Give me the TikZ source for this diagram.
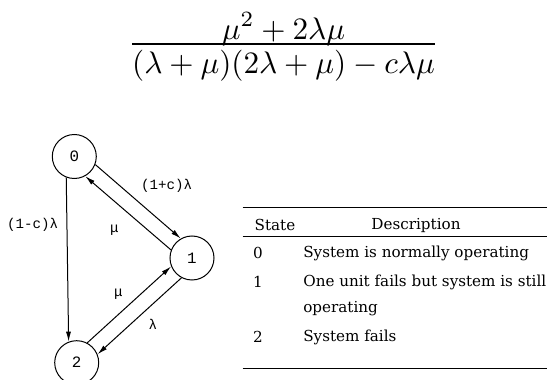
\documentclass[tikz,border=0pt]{standalone}
\usepackage{amsmath,amssymb}
\usepackage{fontspec}
\newfontfamily\tabfont{DejaVu Serif}
\newfontfamily\lblfont{Liberation Mono}
\usepackage{tikz}
\usetikzlibrary{arrows.meta,positioning}

\begin{document}
\begin{tikzpicture}[
  x=0.6pt, y=-0.6pt,
  every node/.style = {align=center},
  state/.style = {circle, draw, line width=0.6pt,
                  minimum size=26.4pt, inner sep=0pt,
                  font=\lblfont\fontsize{9.5}{11}\selectfont},
  arr/.style   = {-{Latex[length=6pt,width=3pt]}, line width=0.6pt},
  lbl/.style   = {font=\lblfont\fontsize{8.5}{10}\selectfont, inner sep=1pt},
  tab/.style   = {font=\tabfont\fontsize{9.1}{11}\selectfont, inner sep=0pt},
  rule/.style  = {line width=0.6pt},
]
\useasboundingbox (0,0) rectangle (552,380);

% ── Formula ──────────────────────────────────────────────────
\node[scale=1.87, anchor=base, inner sep=0pt] (frac) at (283.5,51.8)
  {$\displaystyle\frac{\smash[b]{\raisebox{-2.9pt}{$\displaystyle\mu^2+2\lambda\mu$}}}%
                      {(\lambda+\mu)(2\lambda+\mu)-c\lambda\mu}$};

% ── States ───────────────────────────────────────────────────
\node[state] (s0) at (74.3,156.5) {0};
\node[state] (s1) at (192,258)    {1};
\node[state] (s2) at (76.7,362.7) {2};

% ── Transitions ──────────────────────────────────────────────
\draw[arr] (s0.-21)  -- node[lbl,pos=0.5,anchor=south west,xshift=0.5pt,yshift=4pt]{(1+c)λ} (s1.120);
\draw[arr] (s1.159)  -- node[lbl,pos=0.66,below=13pt]{μ} (s0.-61);
\draw[arr] (s0.249)  -- node[lbl,pos=0.29,left=4pt]{(1-c)λ} (s2.111);
\draw[arr] (s2.62)   -- node[lbl,pos=0.37,above=8pt]{μ} (s1.202);
\draw[arr] (s1.242)  -- node[lbl,pos=0.34,below=8pt]{λ} (s2.22);

% ── Table ────────────────────────────────────────────────────
\draw[rule] (242.7,208) -- (546.7,208);
\node[tab] (hState) at (275,225) {State};
\node[tab] (hDesc)  at (416,225) {Description};
\draw[rule] (242.7,237) -- (546.7,237);

\node[tab] (n0) at (258,253) {0};
\node[tab,anchor=west] (d0) at (303,253) {System is normally operating};
\node[tab] (n1) at (258,282) {1};
\node[tab,anchor=west] (d1) at (303,282) {One unit fails but system is still};
\node[tab,anchor=west] (d1b) at (303,309) {operating};
\node[tab] (n2) at (258,337) {2};
\node[tab,anchor=west] (d2) at (303,337) {System fails};
\draw[rule] (242.7,369) -- (546.7,369);

\end{tikzpicture}
\end{document}
